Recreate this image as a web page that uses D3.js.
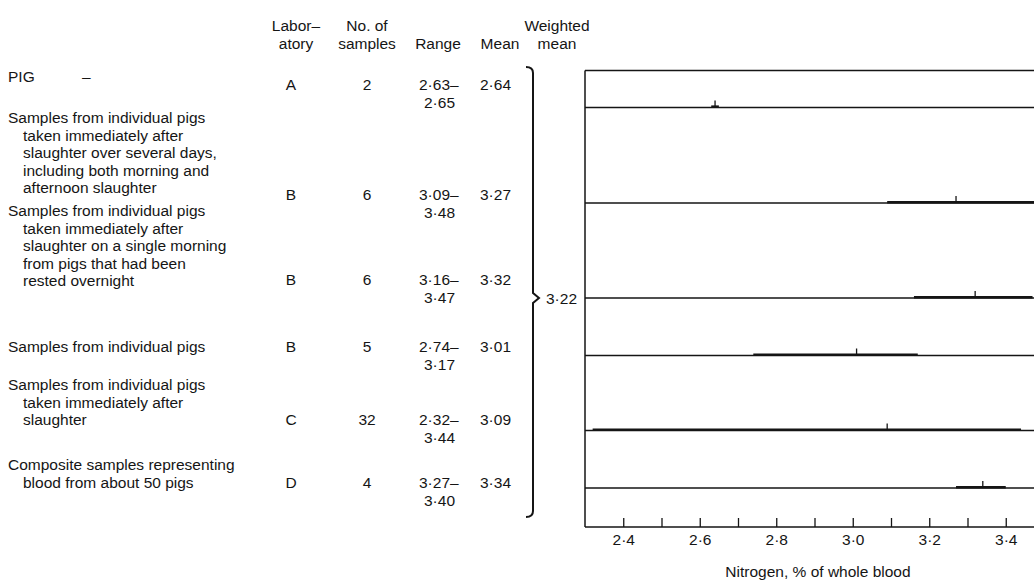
<!DOCTYPE html>
<html>
<head>
<meta charset="utf-8">
<script src="https://cdn.jsdelivr.net/npm/d3@7"></script>
<style>
  body { margin: 0; background: #fff; }
  svg { display: block; font-family: "Liberation Sans", Arial, sans-serif; }
  text { fill: #151515; }
</style>
</head>
<body>
<div id="chart"></div>
<script>
// chart size
var width = 1034,
  height = 580;

// rows of the table
var rowIds = ["r1", "r2", "r3", "r4", "r5", "r6"];
var descriptions = [
  ["PIG"],
  ["Samples from individual pigs", "taken immediately after", "slaughter over several days,", "including both morning and", "afternoon slaughter"],
  ["Samples from individual pigs", "taken immediately after", "slaughter on a single morning", "from pigs that had been", "rested overnight"],
  ["Samples from individual pigs"],
  ["Samples from individual pigs", "taken immediately after", "slaughter"],
  ["Composite samples representing", "blood from about 50 pigs"]
];
var labs = ["A", "B", "B", "B", "C", "D"];
var nSamples = [2, 6, 6, 5, 32, 4];
var rangeMin = [2.63, 3.09, 3.16, 2.74, 2.32, 3.27];
var rangeMax = [2.65, 3.48, 3.47, 3.17, 3.44, 3.40];
var means = [2.64, 3.27, 3.32, 3.01, 3.09, 3.34];
var weightedMean = 3.22;

// axis ticks
var tickValues = [2.4, 2.5, 2.6, 2.7, 2.8, 2.9, 3.0, 3.1, 3.2, 3.3, 3.4];
var tickLabels = [2.4, 2.6, 2.8, 3.0, 3.2, 3.4];

// number format with the raised decimal point
function fmt(v, digits) {
  return v.toFixed(digits).replace(".", "\u00b7");
}

var fs = "15.5px";

var svg = d3
  .select("#chart")
  .append("svg")
  .attr("width", width)
  .attr("height", height);

// scales
var x = d3.scaleLinear().domain([2.3, 3.5]).range([585, 1044]);
// plot line of each row
var yLine = d3.scaleOrdinal().domain(rowIds).range([107.5, 203, 298, 355.5, 430.5, 488]);
// baseline of the table figures of each row
var yText = d3.scaleOrdinal().domain(rowIds).range([90, 200, 285, 352, 425, 488]);
// baseline of the first description line of each row
var yDesc = d3.scaleOrdinal().domain(rowIds).range([82, 123, 216, 352, 390, 470]);

var plotTop = 70.5,
  plotBottom = 527;

// ---- header ----
var header = svg.append("g").attr("font-size", fs);
var headCols = [
  { x: 296, lines: ["Labor\u2013", "atory"] },
  { x: 367, lines: ["No. of", "samples"] },
  { x: 438, lines: ["Range"] },
  { x: 500, lines: ["Mean"] },
  { x: 557, lines: ["Weighted", "mean"] }
];
headCols.forEach((c) => {
  var t = header
    .append("text")
    .attr("x", c.x)
    .attr("y", c.lines.length == 1 ? 49 : 31)
    .attr("text-anchor", "middle");
  c.lines.forEach((l, i) => {
    t.append("tspan")
      .attr("x", c.x)
      .attr("dy", i == 0 ? 0 : 18)
      .text(l);
  });
});

// ---- table ----
var table = svg.append("g").attr("font-size", fs);

// description lines, continuation lines indented
rowIds.forEach((id, i) => {
  var t = table.append("text").attr("y", yDesc(id));
  descriptions[i].forEach((l, j) => {
    t.append("tspan")
      .attr("x", j == 0 ? 8 : 23)
      .attr("dy", j == 0 ? 0 : 17.5)
      .text(l);
  });
});
table.append("text").attr("x", 82).attr("y", 82).text("\u2013");

var rows = table
  .selectAll("g.row")
  .data(rowIds)
  .enter()
  .append("g")
  .attr("class", "row");

rows
  .append("text")
  .attr("x", 291)
  .attr("y", (d) => yText(d))
  .attr("text-anchor", "middle")
  .text((d, i) => labs[i]);

rows
  .append("text")
  .attr("x", 367)
  .attr("y", (d) => yText(d))
  .attr("text-anchor", "middle")
  .text((d, i) => nSamples[i]);

// range, split over two lines
var rangeText = rows
  .append("text")
  .attr("y", (d) => yText(d));
rangeText
  .append("tspan")
  .attr("x", 419)
  .text((d, i) => fmt(rangeMin[i], 2) + "\u2013");
rangeText
  .append("tspan")
  .attr("x", 424)
  .attr("dy", 17.5)
  .text((d, i) => fmt(rangeMax[i], 2));

rows
  .append("text")
  .attr("x", 480)
  .attr("y", (d) => yText(d))
  .text((d, i) => fmt(means[i], 2));

// brace joining the means to the weighted mean
var bx = 533,
  bTop = 67,
  bBot = 517,
  bMid = yLine("r3");
svg
  .append("path")
  .attr(
    "d",
    "M" + (bx - 7) + "," + bTop +
      " Q" + bx + "," + bTop + " " + bx + "," + (bTop + 6) +
      " L" + bx + "," + (bMid - 5) +
      " L" + (bx + 6) + "," + bMid +
      " L" + bx + "," + (bMid + 5) +
      " L" + bx + "," + (bBot - 6) +
      " Q" + bx + "," + bBot + " " + (bx - 7) + "," + bBot
  )
  .attr("fill", "none")
  .attr("stroke", "#151515")
  .attr("stroke-width", 2);

svg
  .append("text")
  .attr("x", 546)
  .attr("y", 304)
  .attr("font-size", fs)
  .text(fmt(weightedMean, 2));

// ---- plot ----
var plot = svg.append("g").attr("stroke", "#151515").attr("fill", "none");

// frame: top and left
plot.append("line").attr("x1", x(2.3)).attr("x2", width).attr("y1", plotTop).attr("y2", plotTop).attr("stroke-width", 1.5);
plot.append("line").attr("x1", x(2.3)).attr("x2", x(2.3)).attr("y1", plotTop).attr("y2", plotBottom).attr("stroke-width", 1.5);

// bottom axis with inward ticks
var axis = d3
  .axisBottom(x)
  .tickValues(tickValues)
  .tickSizeInner(-9)
  .tickSizeOuter(0)
  .tickPadding(7)
  .tickFormat((d) => (tickLabels.some((t) => Math.abs(t - d) < 1e-9) ? fmt(d, 1) : ""));

var gAxis = svg
  .append("g")
  .attr("transform", "translate(0," + plotBottom + ")")
  .call(axis);
gAxis.select(".domain").attr("stroke", "#151515").attr("stroke-width", 1.5).attr("d", "M" + x(2.3) + ",0H" + width);
gAxis.selectAll(".tick line").attr("stroke", "#151515").attr("stroke-width", 1.3);
gAxis.selectAll(".tick text").attr("font-size", fs).attr("font-family", "'Liberation Sans', Arial, sans-serif").attr("fill", "#151515");

svg
  .append("text")
  .attr("x", 818)
  .attr("y", 577)
  .attr("text-anchor", "middle")
  .attr("font-size", fs)
  .text("Nitrogen, % of whole blood");

// row lines across the plot
plot
  .selectAll("line.base")
  .data(rowIds)
  .enter()
  .append("line")
  .attr("class", "base")
  .attr("x1", x(2.3))
  .attr("x2", width)
  .attr("y1", (d) => yLine(d))
  .attr("y2", (d) => yLine(d))
  .attr("stroke-width", 1.3);

// range bars
plot
  .selectAll("line.range")
  .data(rowIds)
  .enter()
  .append("line")
  .attr("class", "range")
  .attr("x1", (d, i) => x(rangeMin[i]))
  .attr("x2", (d, i) => x(rangeMax[i]))
  .attr("y1", (d) => yLine(d) - 0.8)
  .attr("y2", (d) => yLine(d) - 0.8)
  .attr("stroke-width", 2.6);

// mean ticks
plot
  .selectAll("line.mean")
  .data(rowIds)
  .enter()
  .append("line")
  .attr("class", "mean")
  .attr("x1", (d, i) => x(means[i]))
  .attr("x2", (d, i) => x(means[i]))
  .attr("y1", (d) => yLine(d))
  .attr("y2", (d) => yLine(d) - 7)
  .attr("stroke-width", 1.3);
</script>
</body>
</html>
